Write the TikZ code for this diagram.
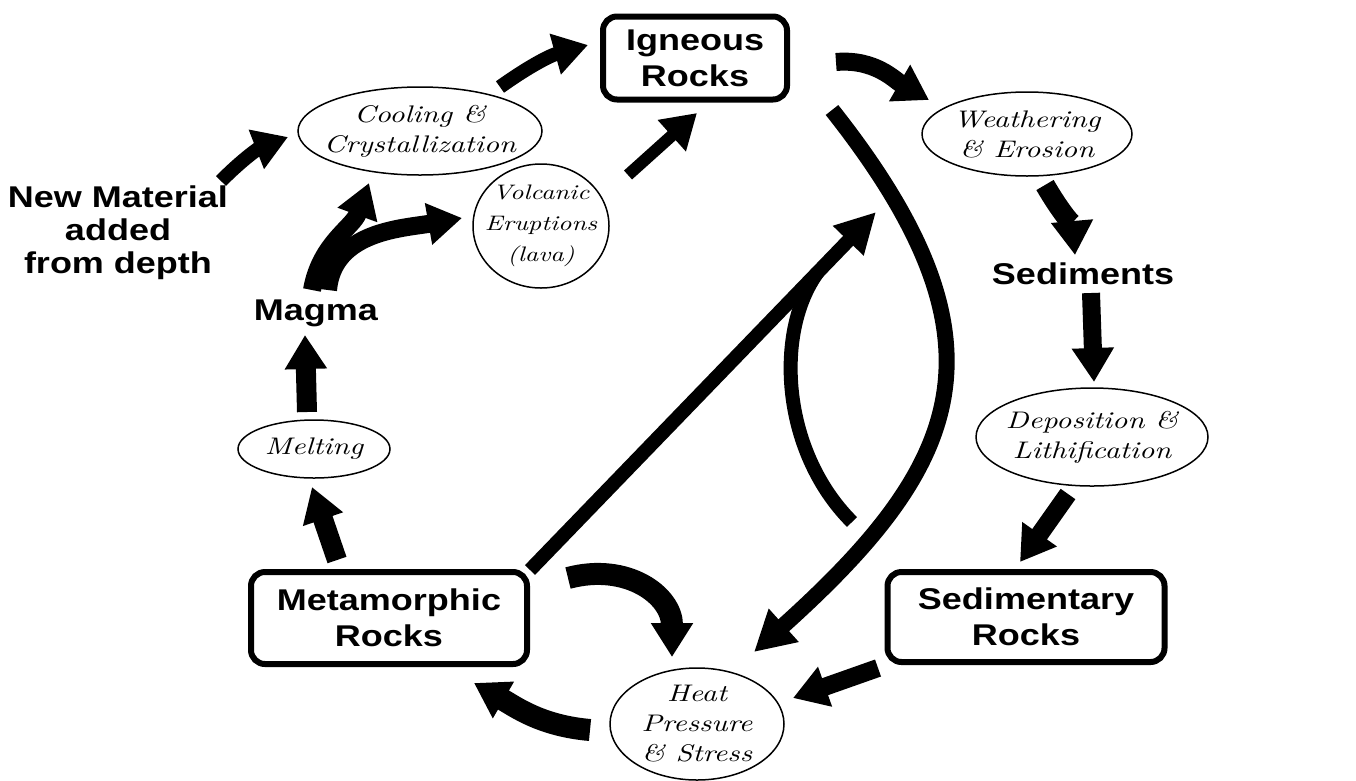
\documentclass[tikz,border=0pt]{standalone}
\usepackage{fontspec}
\usetikzlibrary{arrows.meta,shapes.geometric,calc}
\newfontfamily\lab{Liberation Sans}[FakeStretch=1.2]
\newfontfamily\scr{lmroman10-italic.otf}[FakeStretch=1.25]
\begin{document}
\begin{tikzpicture}[x=1pt,y=-1pt,
  box/.style={draw,line width=6pt,rounded corners=14pt,inner sep=0pt,align=center,
    font=\lab\bfseries\fontsize{30}{36}\selectfont},
  lbl/.style={align=center,inner sep=0pt,font=\lab\bfseries\fontsize{30}{33}\selectfont},
  oval/.style={draw,ellipse,line width=1.5pt,inner sep=0pt},
  otext/.style={align=center,inner sep=0pt,font=\scr\fontsize{24}{30}\selectfont},
  arr/.style={line width=14pt,-{Triangle[length=34pt,width=40pt]}},
]
\fill[white] (0,0) rectangle (1356,780);
\useasboundingbox (0,0) rectangle (1356,780);

% boxes
\node[box,minimum width=184pt,minimum height=83pt] (ign) at (695,58) {Igneous\\Rocks};
\node[box,minimum width=276pt,minimum height=92pt] (meta) at (389,618) {Metamorphic\\Rocks};
\node[box,minimum width=277pt,minimum height=90pt] (sedr) at (1026,617) {Sedimentary\\Rocks};

% ellipses
\node[oval,minimum width=244pt,minimum height=88pt,
  label={[otext]center:{Cooling \&\\Crystallization}}] (cool) at (420,131) {};
\node[oval,minimum width=210pt,minimum height=84pt,
  label={[otext]center:{Weathering\\\& Erosion}}] (weath) at (1027,134) {};
\node[oval,minimum width=136pt,minimum height=124pt,
  label={[otext,font=\scr\fontsize{21}{31}\selectfont]center:{Volcanic\\Eruptions\\(lava)}}] (volc) at (541,226) {};
\node[oval,minimum width=152pt,minimum height=58pt,
  label={[otext]center:{Melting}}] (melt) at (314,449) {};
\node[oval,minimum width=232pt,minimum height=98pt,
  label={[otext]center:{Deposition \&\\Lithification}}] (depo) at (1092,437) {};
\node[oval,minimum width=174pt,minimum height=112pt,
  label={[otext]center:{Heat\\Pressure\\\& Stress}}] (heat) at (697,724) {};

% plain labels
\node[lbl] (newm) at (118,233) {New Material\\added\\from depth};
\node[lbl] (magma) at (316,313) {Magma};
\node[lbl] (sedi) at (1083,274) {Sediments};

% arrows
\draw[arr] ($(newm)+(103,-52)$) to[bend left=12] ($(cool)+(-132,6)$);
\draw[arr] ($(cool)+(80,-44)$) to[bend left=10] ($(ign)+(-107,-13)$);
\draw[arr,line width=12pt] ($(volc)+(87,-51)$) -- ($(ign)+(2,55)$);
\draw[arr,line width=18pt] ($(magma)+(-4,-23)$) to[out=80,in=250] ($(cool)+(-51,52)$);
\draw[arr,line width=18pt] ($(magma)+(12,-23)$) to[out=85,in=190] ($(volc)+(-79,-8)$);
\draw[arr,line width=20pt] ($(melt)+(-7,-37)$) -- ($(magma)+(-11,22)$);
\draw[arr,line width=20pt] ($(meta)+(-52,-58)$) -- ($(melt)+(-2,38)$);
\draw[arr,line width=22pt] ($(heat)+(-107,6)$) to[out=175,in=-30] ($(meta)+(85,65)$);
\draw[arr,line width=22pt] ($(meta)+(179,-40)$) to[out=15,in=90,looseness=1.2] ($(heat)+(-25,-67)$);
\draw[arr,line width=14pt,-{Triangle[length=40pt,width=40pt]}] ($(meta)+(141,-48)$) -- ($(ign)+(181,154)$);
\coordinate (arcA) at (852,522);
\coordinate (arcB) at (818,272);
\draw[line width=14pt] (arcA) .. controls (780,450) and (775,330) .. (arcB);
\draw[arr,line width=16pt,-{Triangle[length=40pt,width=42pt]}] ($(ign)+(137,52)$) .. controls (1017,344) and (962,465) .. ($(heat)+(57,-72)$);
\draw[arr,line width=18pt] ($(ign)+(141,4)$) to[out=5,in=150] ($(weath)+(-98,-34)$);
\draw[arr,line width=20pt] ($(weath)+(18,51)$) to[out=-60,in=95] ($(sedi)+(-8,-19)$);
\draw[arr,line width=18pt] ($(sedi)+(8,19)$) -- ($(depo)+(2,-55)$);
\draw[arr,line width=18pt] ($(depo)+(-24,57)$) -- ($(sedr)+(-6,-55)$);
\draw[arr,line width=18pt] ($(sedr)+(-148,51)$) -- ($(heat)+(96,-26)$);
\end{tikzpicture}
\end{document}
